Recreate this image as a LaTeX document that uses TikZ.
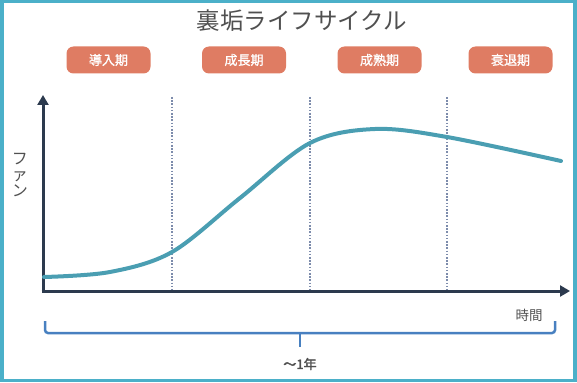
\documentclass[tikz,border=0pt]{standalone}
\usepackage{fontspec}
\setmainfont{Noto Sans CJK JP}
\newfontfamily\jpbold{Noto Sans CJK JP}[FakeBold=2.5]
\newfontfamily\jpmedium{Noto Sans CJK JP}[FakeBold=1.2]
\usetikzlibrary{arrows.meta}
\definecolor{frameblue}{RGB}{75,176,201}
\definecolor{axisnavy}{RGB}{44,58,78}
\definecolor{curveteal}{RGB}{74,158,178}
\definecolor{phasesalmon}{RGB}{223,124,99}
\definecolor{dotgray}{RGB}{125,140,172}
\definecolor{braceblue}{RGB}{72,128,192}
\definecolor{textgray}{RGB}{80,80,80}
\newcommand{\widthphase}{84pt}
\newcommand{\heightphase}{27pt}
\tikzset{
    phase/.style={fill=phasesalmon, rounded corners=7pt, minimum width=\widthphase, minimum height=\heightphase, text=white, font=\jpmedium\fontsize{13}{13}\selectfont},
    axis/.style={line width=3pt, axisnavy, -{Triangle[length=10pt,width=11pt]}},
    divider/.style={dotgray, line width=2pt, dash pattern=on 1.6pt off 1.6pt},
    lifecurve/.style={curveteal, line width=4pt, line cap=round},
    span/.style={braceblue, line width=2.5pt, rounded corners=3pt},
    axislabel/.style={text=textgray, inner sep=0pt}
}

\begin{document}
\begin{tikzpicture}[x=1pt, y=-1pt]
    \useasboundingbox (0,0) rectangle (577,382);
    \draw[frameblue, line width=3.5pt] (1.75,1.75) rectangle (575,380.25);

    \node[text=textgray, font=\fontsize{23.5}{24}\selectfont] (title) at (302,21) {裏垢ライフサイクル};

    \node[phase] (intro) at (108.5,60) {導入期};
    \node[phase] (growth) at (244,60) {成長期};
    \node[phase] (mature) at (379.5,60) {成熟期};
    \node[phase] (decline) at (510.5,60) {衰退期};

    % axes
    \coordinate (origin) at (43,291);
    \coordinate (ytip) at (43,95);
    \coordinate (xtip) at (570,291);
    \foreach \x/\n in {172/a, 310/b, 447/c} {
        \coordinate (top\n) at (\x,97);
        \coordinate (bot\n) at (\x,291);
        \draw[divider] (top\n) -- (bot\n);
    }
    \draw[axis] (43,292.5) -- (ytip);
    \draw[axis] (41.5,291) -- (xtip);

    \draw[lifecurve] plot[smooth, tension=0.55] coordinates {(44,277) (110,272) (172,252) (240,198) (310,143) (375,129) (447,137) (561,161)};

    \node[axislabel, align=center, font=\fontsize{16}{16}\selectfont] (fans) at (20,175) {フ\\ァ\\ン};
    \node[axislabel, font=\fontsize{13.5}{14}\selectfont] (time) at (529,315) {時間};

    % span below the time axis
    \coordinate (spanl) at (45,321);
    \coordinate (spanr) at (555,321);
    \coordinate (spanmid) at (300,333);
    \draw[span] (spanl) -- (45,333) -- (555,333) -- (spanr);
    \draw[braceblue, line width=2.5pt] (spanmid) -- ++(0,14);
    \node[axislabel, font=\jpbold\fontsize{13}{13}\selectfont] (year) at (300,364) {～1年};
\end{tikzpicture}
\end{document}
